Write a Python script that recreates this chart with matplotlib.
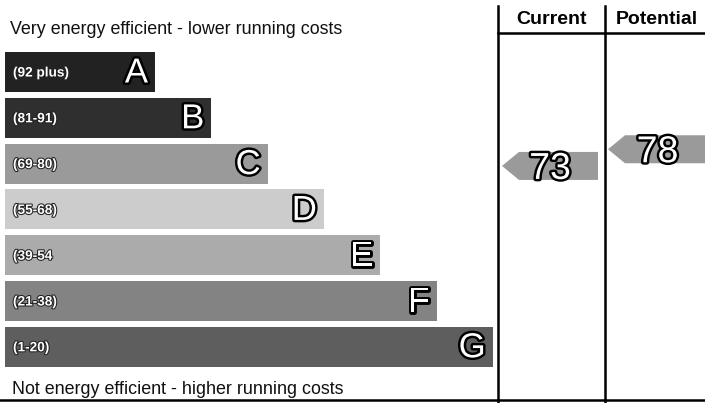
import matplotlib
matplotlib.use("Agg")
import matplotlib.pyplot as plt
import matplotlib.patheffects as pe
from matplotlib.patches import Polygon

# rating bands, best first
letters = ["A", "B", "C", "D", "E", "F", "G"]
ranges = ["(92 plus)", "(81-91)", "(69-80)", "(55-68)", "(39-54", "(21-38)", "(1-20)"]
band_lo = [92, 81, 69, 55, 39, 21, 1]
band_hi = [100, 91, 80, 68, 54, 38, 20]
band_colors = ["#222222", "#2f2f2f", "#9a9a9a", "#cccccc", "#ababab", "#838383", "#5e5e5e"]

current = 73
potential = 78

W, H = 705, 403
TOP0, STEP, BAR_H = 52, 45.8, 40
BAR_W0, BAR_DW = 150, 56.3
COL_X = [498, 605]

plt.rcParams["font.family"] = ["Liberation Sans", "DejaVu Sans"]

fig = plt.figure(figsize=(W / 100, H / 100), dpi=100, facecolor="white")
ax = fig.add_axes([0, 0, 1, 1])
ax.set_xlim(0, W)
ax.set_ylim(H, 0)
ax.set_axis_off()

tops = [TOP0 + STEP * i for i in range(len(letters))]
widths = [BAR_W0 + BAR_DW * i for i in range(len(letters))]
centers = [t + BAR_H / 2 for t in tops]

ax.barh(centers, widths, height=BAR_H, left=5, color=band_colors, edgecolor="none")

letter_fx = [pe.withStroke(linewidth=3.5, foreground="black")]
small_fx = [pe.withStroke(linewidth=1.5, foreground="#222222")]
for i in range(len(letters)):
    ax.text(13, centers[i] + 0.5, ranges[i], color="white", fontsize=9.8, fontweight="bold",
            ha="left", va="center", path_effects=small_fx)
    ax.text(5 + widths[i] - 7, centers[i] + 1, letters[i], color="white", fontsize=25,
            ha="right", va="center", path_effects=letter_fx)

ax.text(10, 29, "Very energy efficient - lower running costs", fontsize=12.9,
        ha="left", va="center", color="#111111")
ax.text(12, 389, "Not energy efficient - higher running costs", fontsize=12.9,
        ha="left", va="center", color="#111111")

# frame lines
for x in COL_X:
    ax.plot([x, x], [6, H], color="black", lw=1.8)
ax.plot([COL_X[0], W], [33, 33], color="black", lw=1.8)
ax.plot([0, W], [400, 400], color="black", lw=1.8)

ax.text((COL_X[0] + COL_X[1]) / 2, 19, "Current", fontsize=14, fontweight="bold",
        ha="center", va="center")
ax.text((COL_X[1] + W) / 2 + 2, 19, "Potential", fontsize=14, fontweight="bold",
        ha="center", va="center")


def value_y(v):
    for i in range(len(letters)):
        if band_lo[i] <= v <= band_hi[i]:
            n = band_hi[i] - band_lo[i] + 1
            return tops[i] + (band_hi[i] - v) * BAR_H / n - 1
    return tops[-1]


def arrow(x0, x1, v):
    yc = value_y(v)
    idx = [i for i in range(len(letters)) if band_lo[i] <= v <= band_hi[i]][0]
    h = 28
    tip = 17
    pts = [(x0, yc), (x0 + tip, yc - h / 2), (x1, yc - h / 2), (x1, yc + h / 2), (x0 + tip, yc + h / 2)]
    ax.add_patch(Polygon(pts, closed=True, facecolor=band_colors[idx], edgecolor="none"))
    ax.text((x0 + x1) / 2, yc + 3, str(v), color="white", fontsize=27,
            ha="center", va="center", path_effects=letter_fx)


arrow(COL_X[0] + 4, 598, current)
arrow(COL_X[1] + 3, W + 2, potential)

fig.savefig("out.png", dpi=100, facecolor="white")
